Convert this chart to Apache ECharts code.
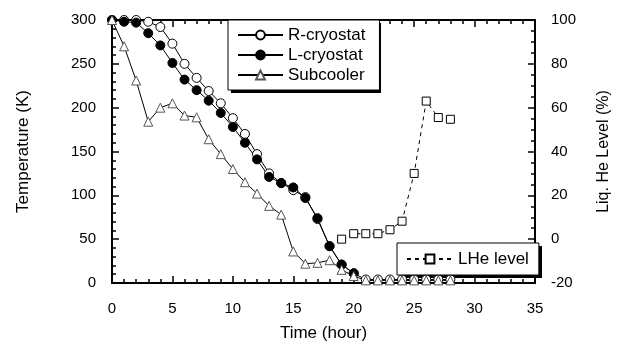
<!DOCTYPE html>
<html>
<head>
<meta charset="utf-8">
<script src="https://cdn.jsdelivr.net/npm/echarts@6/dist/echarts.min.js"></script>
<style>html,body{margin:0;padding:0;background:#fff}#c{width:620px;height:347px}</style>
</head>
<body>
<div id="c"></div>
<script>
var rTimes = [0,1,2,3,4,5,6,7,8,9,10,11,12,13,14,15,16,17,18,19,20,21,22,23,24,25,26,27,28];
var rCryostat = [300,300,300,298,292,273,250,234,219,205,188,170,147,125,114,106,98,73,42,21,11,4,4,4,4,4,4,4,4];
var lTimes = [0,1,2,3,4,5,6,7,8,9,10,11,12,13,14,15,16,17,18,19,20];
var lCryostat = [300,298,297,285,271,251,232,220,208,194,178,160,141,121,114,109,97,74,42,21,11];
var sTimes = [0,1,2,3,4,5,6,7,8,9,10,11,12,13,14,15,16,17,18,19,20,21,22,23,24,25,26,27,28];
var subcooler = [300,270,231,184,200,205,191,189,164,147,130,115,102,88,78,36,22,23,26,15,8,3,3,3,3,3,3,3,3];
var heTimes = [19,20,21,22,23,24,25,26,27,28];
var heLevel = [0,2.5,2.5,2.5,4.3,8.2,30,63,55.5,54.7];
var xTicks = [0,5,10,15,20,25,30,35];
var yLeftTicks = [0,50,100,150,200,250,300];
var yRightTicks = [-20,0,20,40,60,80,100];

function pairs(t, v) { return t.map(function (x, i) { return [x, v[i]]; }); }

var FONT = "'Liberation Sans', Arial, sans-serif";
var chart = echarts.init(document.getElementById('c'), null, {renderer: 'canvas'});
var axisLine = {show: true, onZero: false, lineStyle: {color: '#000', width: 2}};
var tick = {show: true, inside: true, length: 7, lineStyle: {color: '#000', width: 1.5}};
var minor = function (n) { return {show: true, splitNumber: n, length: 4, lineStyle: {color: '#000', width: 1.5}}; };
var lbl = {color: '#000', fontSize: 15, fontFamily: FONT};

chart.setOption({
  animation: false,
  backgroundColor: '#fff',
  grid: {left: 112, right: 84, top: 20, bottom: 60},
  graphic: [
    {type: 'rect', left: 231, top: 23, shape: {width: 150, height: 70}, style: {fill: '#000'}, z: 1},
    {type: 'rect', left: 400, top: 246, shape: {width: 142, height: 32}, style: {fill: '#000'}, z: 1}
  ],
  xAxis: [{
    type: 'value', min: xTicks[0], max: xTicks[xTicks.length - 1], interval: 5,
    name: 'Time (hour)', nameLocation: 'middle', nameGap: 42,
    nameTextStyle: {color: '#000', fontSize: 17, fontFamily: FONT},
    axisLine: axisLine, axisTick: tick, minorTick: minor(5),
    axisLabel: Object.assign({margin: 18}, lbl), splitLine: {show: false}
  }, {
    type: 'value', position: 'top', min: 0, max: 35, interval: 5,
    axisLine: axisLine, axisTick: tick, minorTick: minor(5),
    axisLabel: {show: false}, splitLine: {show: false}
  }],
  yAxis: [{
    type: 'value', min: yLeftTicks[0], max: yLeftTicks[yLeftTicks.length - 1], interval: 50,
    name: 'Temperature (K)', nameLocation: 'middle', nameGap: 80,
    nameTextStyle: {color: '#000', fontSize: 17, fontFamily: FONT},
    axisLine: axisLine, axisTick: tick, minorTick: minor(5),
    axisLabel: Object.assign({margin: 16}, lbl), splitLine: {show: false}
  }, {
    type: 'value', position: 'right', min: yRightTicks[0], max: yRightTicks[yRightTicks.length - 1], interval: 20,
    name: 'Liq. He Level (%)', nameLocation: 'middle', nameGap: 61,
    nameTextStyle: {color: '#000', fontSize: 16, fontFamily: FONT},
    axisLine: axisLine, axisTick: tick, minorTick: minor(4),
    axisLabel: Object.assign({margin: 16}, lbl), splitLine: {show: false}
  }],
  legend: [{
    data: ['R-cryostat', 'L-cryostat', 'Subcooler'],
    orient: 'vertical', left: 228, top: 20, z: 5,
    padding: [5, 14, 5, 9], itemGap: 0, itemWidth: 45, itemHeight: 11,
    backgroundColor: '#fff', borderColor: '#000', borderWidth: 1,
    textStyle: {color: '#000', fontSize: 17, fontFamily: FONT, lineHeight: 20}
  }, {
    data: ['LHe level'],
    orient: 'vertical', left: 397, top: 243, z: 5,
    padding: [6, 10, 6, 9], itemGap: 0, itemWidth: 46, itemHeight: 11,
    backgroundColor: '#fff', borderColor: '#000', borderWidth: 1,
    textStyle: {color: '#000', fontSize: 17, fontFamily: FONT, lineHeight: 20}
  }],
  series: [{
    name: 'R-cryostat', type: 'line', data: pairs(rTimes, rCryostat), clip: false,
    symbol: 'circle', symbolSize: 9,
    lineStyle: {color: '#000', width: 1},
    itemStyle: {color: '#fff', borderColor: '#000', borderWidth: 1}
  }, {
    name: 'L-cryostat', type: 'line', data: pairs(lTimes, lCryostat), clip: false,
    symbol: 'circle', symbolSize: 9,
    lineStyle: {color: '#000', width: 1},
    itemStyle: {color: '#000', borderColor: '#000', borderWidth: 1}
  }, {
    name: 'Subcooler', type: 'line', data: pairs(sTimes, subcooler), clip: false,
    symbol: 'triangle', symbolSize: 9,
    lineStyle: {color: '#000', width: 1},
    itemStyle: {color: '#fff', borderColor: '#555', borderWidth: 1}
  }, {
    name: 'LHe level', type: 'line', yAxisIndex: 1, data: pairs(heTimes, heLevel), clip: false,
    symbol: 'rect', symbolSize: 8,
    lineStyle: {color: '#000', width: 1, type: [4, 4]},
    itemStyle: {color: '#fff', borderColor: '#000', borderWidth: 1}
  }]
});
</script>
</body>
</html>
